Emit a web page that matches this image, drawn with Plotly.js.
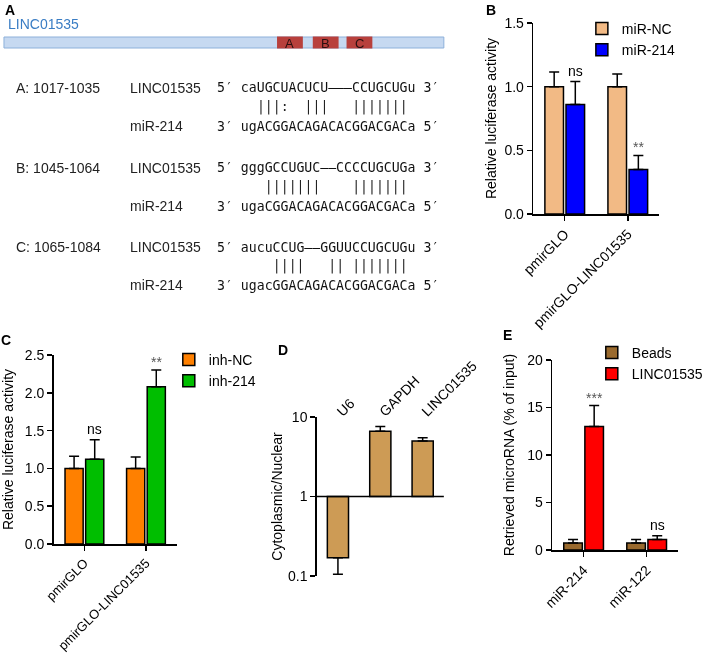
<!DOCTYPE html>
<html><head><meta charset="utf-8">
<script src="https://cdn.plot.ly/plotly-3.0.1.min.js"></script>
<style>html,body{margin:0;padding:0;background:#fff}#chart{width:709px;height:659px;will-change:transform}</style>
</head><body><div id="chart"></div>
<script>
// ---------------- data ----------------
// Panel A (sequence alignment)
const transcriptName = 'LINC01535';
const siteLabels = ['A', 'B', 'C'];
const siteRanges = ['A: 1017-1035', 'B: 1045-1064', 'C: 1065-1084'];
const lincSeq = ['caUGCUACUCU———CCUGCUGu', 'gggGCCUGUC——CCCCUGCUGa', 'aucuCCUG——GGUUCCUGCUGu'];
const pairSeq = ['  |||:  |||   |||||||', '   |||||||    |||||||', '    ||||   || |||||||'];
const mirSeq = ['ugACGGACAGACACGGACGACa', 'ugaCGGACAGACACGGACGACa', 'ugacGGACAGACACGGACGACa'];
const rowNames = ['LINC01535', 'miR-214'];

// Panel B
const groupsB = ['pmirGLO', 'pmirGLO-LINC01535'];
const ncB = [1.0, 1.0];
const ncBerr = [0.115, 0.10];
const m214B = [0.86, 0.35];
const m214Berr = [0.18, 0.11];
const sigB = ['ns', '**'];

// Panel C
const groupsC = ['pmirGLO', 'pmirGLO-LINC01535'];
const inhNC = [1.0, 1.0];
const inhNCerr = [0.16, 0.15];
const inh214 = [1.12, 2.08];
const inh214err = [0.26, 0.22];
const sigC = ['ns', '**'];

// Panel D
const genesD = ['U6', 'GAPDH', 'LINC01535'];
const ratioD = [0.17, 6.6, 5.0];
const ratioDup = [0, 1.0, 0.5];
const ratioDdown = [0.065, 0, 0];

// Panel E
const mirE = ['miR-214', 'miR-122'];
const beadsE = [0.75, 0.75];
const beadsEerr = [0.35, 0.35];
const lincE = [13.0, 1.1];
const lincEerr = [2.2, 0.4];
const sigE = ['***', 'ns'];

// ---------------- layout helpers ----------------
const W = 709, H = 659;
const px = x => x / W, py = y => 1 - y / H;
const SANS = 'Liberation Sans, Arial, sans-serif';
const MONO = 'DejaVu Sans Mono, Liberation Mono, monospace';
const nb = s => s.replace(/ /g, '\u00A0');

const errStyle = {type: 'data', symmetric: false, color: '#000', thickness: 1.5, width: 5};
const barLine = {color: '#000', width: 1.5};
const zeros = a => a.map(() => 0);

const traces = [
  // B
  {type: 'bar', name: 'miR-NC', x: groupsB, y: ncB, xaxis: 'x', yaxis: 'y', legend: 'legend',
   marker: {color: '#F2BA85', line: barLine}, error_y: Object.assign({array: ncBerr, arrayminus: zeros(ncBerr)}, errStyle)},
  {type: 'bar', name: 'miR-214', x: groupsB, y: m214B, xaxis: 'x', yaxis: 'y', legend: 'legend',
   marker: {color: '#0000FF', line: barLine}, error_y: Object.assign({array: m214Berr, arrayminus: zeros(m214Berr)}, errStyle)},
  // C
  {type: 'bar', name: 'inh-NC', x: groupsC, y: inhNC, xaxis: 'x2', yaxis: 'y2', legend: 'legend2',
   marker: {color: '#FF8000', line: barLine}, error_y: Object.assign({array: inhNCerr, arrayminus: zeros(inhNCerr)}, errStyle)},
  {type: 'bar', name: 'inh-214', x: groupsC, y: inh214, xaxis: 'x2', yaxis: 'y2', legend: 'legend2',
   marker: {color: '#00BE00', line: barLine}, error_y: Object.assign({array: inh214err, arrayminus: zeros(inh214err)}, errStyle)},
  // D
  {type: 'bar', name: 'ratio', x: genesD, y: ratioD.map(v => v - 1), base: 1, width: 0.5, xaxis: 'x3', yaxis: 'y3', showlegend: false,
   marker: {color: '#CD9B55', line: barLine}, error_y: Object.assign({array: ratioDup, arrayminus: ratioDdown}, errStyle)},
  // E
  {type: 'bar', name: 'Beads', x: mirE, y: beadsE, xaxis: 'x4', yaxis: 'y4', legend: 'legend3',
   marker: {color: '#9A6A2E', line: barLine}, error_y: Object.assign({array: beadsEerr, arrayminus: zeros(beadsEerr)}, errStyle)},
  {type: 'bar', name: 'LINC01535', x: mirE, y: lincE, xaxis: 'x4', yaxis: 'y4', legend: 'legend3',
   marker: {color: '#FF0000', line: barLine}, error_y: Object.assign({array: lincEerr, arrayminus: zeros(lincEerr)}, errStyle)}
];

const FS = 14;
const tickFont = {family: SANS, size: FS, color: '#000'};
const titleFont = {family: SANS, size: FS, color: '#000'};
const baseAxis = {showline: true, linecolor: '#000', linewidth: 1.5, ticks: 'outside', ticklen: 5, tickwidth: 1.5,
  tickcolor: '#000', showgrid: false, zeroline: false, tickfont: tickFont, fixedrange: true};
const xCat = (dom, anchor, n, fs) => Object.assign({}, baseAxis, {domain: dom, anchor: anchor, type: 'category',
  range: [-0.5, n - 0.5], tickangle: -45, tickfont: {family: SANS, size: fs, color: '#000'}});
const yLin = (dom, anchor, range, dtick, fmt, title, so) => Object.assign({}, baseAxis, {domain: dom, anchor: anchor,
  range: range, dtick: dtick, tick0: 0, tickformat: fmt, title: {text: title, font: titleFont, standoff: so}});
const legendBase = {xanchor: 'left', yanchor: 'top', font: {family: SANS, size: FS, color: '#000'}, bgcolor: 'rgba(0,0,0,0)', tracegroupgap: 0};

const layout = {
  width: W, height: H, margin: {l: 0, r: 0, t: 0, b: 0},
  paper_bgcolor: '#fff', plot_bgcolor: 'rgba(0,0,0,0)',
  barmode: 'group', bargap: 0.33, bargroupgap: 0.12,
  font: {family: SANS, size: FS, color: '#000'},
  xaxis: xCat([px(537), px(664)], 'y', 2, 14),
  yaxis: yLin([py(214), py(23)], 'x', [0, 1.5], 0.5, '.1f', 'Relative luciferase activity', 4),
  xaxis2: xCat([px(54), px(178)], 'y2', 2, 13),
  yaxis2: yLin([py(544), py(355)], 'x2', [0, 2.5], 0.5, '.1f', 'Relative luciferase activity', 9),
  xaxis3: Object.assign({}, baseAxis, {domain: [px(319), px(447)], anchor: 'y3', type: 'category', range: [-0.5, 2.5],
    side: 'top', showline: false, ticks: '', tickangle: -45, ticklabelstandoff: -6}),
  yaxis3: Object.assign({}, baseAxis, {domain: [py(576), py(417)], anchor: 'x3', type: 'log', range: [-1, 1],
    tickvals: [0.1, 1, 10], ticktext: ['0.1', '1', '10'],
    title: {text: 'Cytoplasmic/Nuclear', font: titleFont, standoff: 2}}),
  xaxis4: xCat([px(556), px(683)], 'y4', 2, 14),
  yaxis4: yLin([py(550), py(360)], 'x4', [0, 20], 5, 'd', 'Retrieved microRNA (% of input)', 9),
  legend: Object.assign({x: px(586), y: py(13)}, legendBase),
  legend2: Object.assign({x: px(170), y: py(344)}, legendBase),
  legend3: Object.assign({x: px(596), y: py(337)}, legendBase),
  shapes: [],
  annotations: []
};

// D: baseline at y = 1
layout.shapes.push({type: 'line', xref: 'x3 domain', x0: 0, x1: 1, yref: 'y3', y0: 1, y1: 1, line: {color: '#000', width: 1.5}});

// significance marks
const off = (1 - layout.bargap) / 4;
function sig(list, vals, errs, xref, yref) {
  list.forEach((t, i) => {
    const star = t.indexOf('*') >= 0;
    layout.annotations.push({xref: xref, yref: yref, x: i + off, y: vals[i] + errs[i], text: t, showarrow: false,
      yanchor: 'bottom', yshift: star ? -2 : 1, font: {family: SANS, size: FS, color: star ? '#555' : '#000'}});
  });
}
sig(sigB, m214B, m214Berr, 'x', 'y');
sig(sigC, inh214, inh214err, 'x2', 'y2');
sig(sigE, lincE, lincEerr, 'x4', 'y4');

// panel letters
[['A', 10, 0], ['B', 494, 0], ['C', 6, 330], ['D', 285, 340], ['E', 511, 325]].forEach(([t, x, y]) => {
  layout.annotations.push({xref: 'paper', yref: 'paper', x: px(x), y: py(y), text: '<b>' + t + '</b>', showarrow: false,
    xanchor: 'center', yanchor: 'top', font: {family: SANS, size: 14, color: '#000'}});
});

// Panel A: transcript schematic
layout.annotations.push({xref: 'paper', yref: 'paper', x: px(6), y: py(24), text: transcriptName, showarrow: false,
  xanchor: 'left', yanchor: 'middle', font: {family: SANS, size: 14, color: '#3A7DC4'}});
layout.shapes.push({type: 'rect', xref: 'paper', yref: 'paper', x0: px(4), x1: px(447), y0: py(48), y1: py(37),
  fillcolor: '#C6D9F1', line: {color: '#8DB0DA', width: 1}});
const siteX = [279, 315, 349];
siteLabels.forEach((s, i) => {
  layout.shapes.push({type: 'rect', xref: 'paper', yref: 'paper', x0: px(siteX[i]), x1: px(siteX[i] + 26), y0: py(48.5), y1: py(36.5),
    fillcolor: '#B8403C', line: {width: 0}});
  layout.annotations.push({xref: 'paper', yref: 'paper', x: px(siteX[i] + 13), y: py(43), text: s, showarrow: false,
    xanchor: 'center', yanchor: 'middle', font: {family: SANS, size: 13, color: '#2a1010'}});
});

// Panel A: alignments
const rowY = [88, 168, 247];
const pitch = 7.95, bodyX = 240.5, monoSize = pitch / 0.602;
rowY.forEach((y0, i) => {
  const lab = (t, x, y) => layout.annotations.push({xref: 'paper', yref: 'paper', x: px(x), y: py(y), text: t, showarrow: false,
    xanchor: 'left', yanchor: 'middle', font: {family: SANS, size: 14, color: '#222'}});
  lab(siteRanges[i], 14, y0);
  lab(rowNames[0], 129, y0);
  lab(rowNames[1], 129, y0 + 38);
  const seqLine = (t, y) => layout.annotations.push({xref: 'paper', yref: 'paper', x: px(bodyX - 3 * pitch), y: py(y), text: t,
    showarrow: false, xanchor: 'left', yanchor: 'middle', font: {family: MONO, size: monoSize, color: '#111'}});
  seqLine(nb('5′ ' + lincSeq[i] + ' 3′'), y0);
  seqLine(nb('3′ ' + mirSeq[i] + ' 5′'), y0 + 38);
  layout.annotations.push({xref: 'paper', yref: 'paper', x: px(bodyX), y: py(y0 + 19), text: nb(pairSeq[i]),
    showarrow: false, xanchor: 'left', yanchor: 'middle', font: {family: MONO, size: monoSize, color: '#222'}});
});

Plotly.newPlot('chart', traces, layout, {staticPlot: true, displayModeBar: false});
</script>
</body></html>
